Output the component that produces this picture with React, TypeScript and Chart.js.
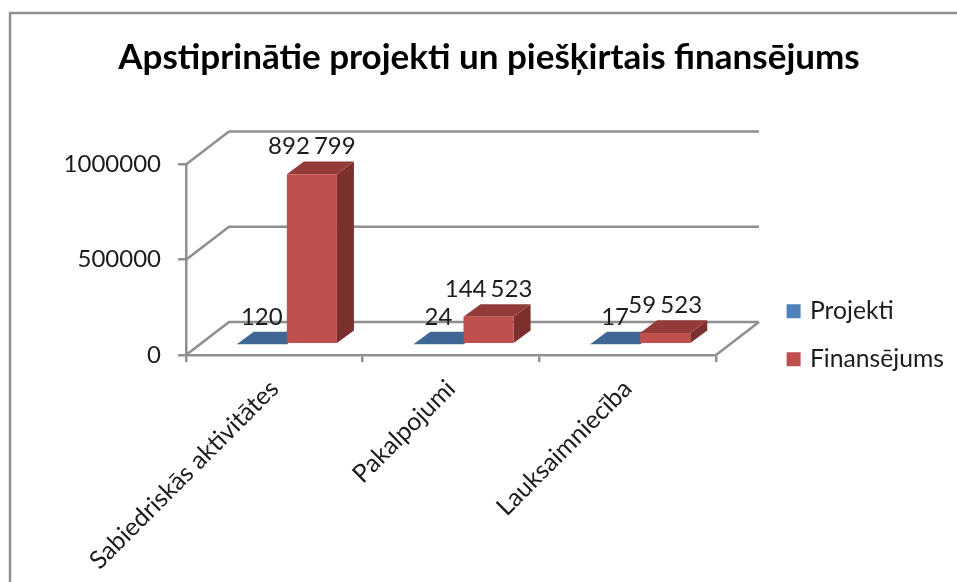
import React, { useEffect, useRef } from "react";
import { Chart, registerables } from "chart.js";

Chart.register(...registerables);

const categories = ["Sabiedriskās aktivitātes", "Pakalpojumi", "Lauksaimniecība"];
const projekti = [120, 24, 17];
const finansejums = [892799, 144523, 59523];
const yTickValues = [0, 500000, 1000000];
const seriesNames = ["Projekti", "Finansējums"];

const FONT = "Lato, Carlito, 'Open Sans', sans-serif";
const TEXT = "#1c1c1c";
const LINE = "#8f8f8f";
const WALL_DX = 43;
const WALL_DY = -33;
const BAR_SHIFT_X = 12.5;
const BAR_SHIFT_Y = -10.7;
const BAR_DX = 17;
const BAR_DY = -12.6;
const LABEL_RISE = 27.5;

const faces = [
  { front: "#4F81BD", top: "#3F6796", side: "#355780" },
  { front: "#C0504D", top: "#923B39", side: "#7B302E" },
];

const fmt = (v: number) => String(v).replace(/\B(?=(\d{3})+$)/g, " ");

const poly = (ctx: CanvasRenderingContext2D, pts: number[][], fill: string) => {
  ctx.beginPath();
  pts.forEach((p, i) => (i ? ctx.lineTo(p[0], p[1]) : ctx.moveTo(p[0], p[1])));
  ctx.closePath();
  ctx.fillStyle = fill;
  ctx.fill();
};

const scene3d = {
  id: "scene3d",
  afterLayout(chart: any) {
    const lg = chart.legend;
    lg.left = 766.3;
    lg.right = 957;
    lg.top = 275.5;
    lg.bottom = 582;
    lg.width = lg.right - lg.left;
    lg.height = lg.bottom - lg.top;
    const tt = chart.titleBlock;
    tt.left = 89;
    tt.right = 889;
    tt.width = 800;
  },
  beforeDraw(chart: any) {
    const { ctx, width, height } = chart;
    ctx.save();
    ctx.fillStyle = "#fff";
    ctx.fillRect(0, 0, width, height);
    ctx.strokeStyle = LINE;
    ctx.lineWidth = 2.5;
    ctx.strokeRect(10, 13, width + 20, height + 20);
    ctx.restore();
  },
  beforeDatasetsDraw(chart: any) {
    const { ctx, scales } = chart;
    const { x, y } = scales;
    ctx.save();
    ctx.strokeStyle = LINE;
    ctx.lineWidth = 2.5;
    ctx.beginPath();
    y.ticks.forEach((t: any) => {
      const py = y.getPixelForValue(t.value);
      ctx.moveTo(x.left, py);
      ctx.lineTo(x.left + WALL_DX, py + WALL_DY);
      ctx.lineTo(x.right + WALL_DX, py + WALL_DY);
    });
    const by = y.getPixelForValue(0);
    ctx.moveTo(x.right, by);
    ctx.lineTo(x.right + WALL_DX, by + WALL_DY);
    ctx.stroke();
    chart.data.datasets.forEach((_: any, i: number) => {
      const c = faces[i];
      chart.getDatasetMeta(i).data.forEach((bar: any) => {
        const l = bar.x - bar.width / 2 + BAR_SHIFT_X;
        const r = bar.x + bar.width / 2 + BAR_SHIFT_X;
        const t = bar.y + BAR_SHIFT_Y;
        const b = bar.base + BAR_SHIFT_Y;
        poly(ctx, [[r, t], [r + BAR_DX, t + BAR_DY], [r + BAR_DX, b + BAR_DY], [r, b]], c.side);
        poly(ctx, [[l, t], [l + BAR_DX, t + BAR_DY], [r + BAR_DX, t + BAR_DY], [r, t]], c.top);
        if (b - t > 0.5) poly(ctx, [[l, t], [r, t], [r, b], [l, b]], c.front);
      });
    });
    ctx.restore();
  },
  beforeDatasetDraw() {
    return false;
  },
  afterDatasetsDraw(chart: any) {
    const { ctx } = chart;
    ctx.save();
    ctx.font = `24px ${FONT}`;
    (ctx as any).wordSpacing = "-2px";
    ctx.fillStyle = TEXT;
    ctx.textAlign = "center";
    ctx.textBaseline = "middle";
    chart.data.datasets.forEach((ds: any, i: number) => {
      chart.getDatasetMeta(i).data.forEach((bar: any, j: number) => {
        ctx.fillText(fmt(ds.data[j]), bar.x + BAR_SHIFT_X, bar.y + BAR_SHIFT_Y - LABEL_RISE);
      });
    });
    ctx.restore();
  },
};

export default function App() {
  const ref = useRef<HTMLCanvasElement>(null);
  useEffect(() => {
    document.body.style.margin = "0";
    const chart = new Chart(ref.current as HTMLCanvasElement, {
      type: "bar",
      data: {
        labels: categories,
        datasets: [
          { label: seriesNames[0], data: projekti, backgroundColor: faces[0].front, borderColor: faces[0].front, borderWidth: 6 },
          { label: seriesNames[1], data: finansejums, backgroundColor: faces[1].front, borderColor: faces[1].front, borderWidth: 6 },
        ],
      },
      plugins: [scene3d],
      options: {
        responsive: false,
        animation: false,
        events: [],
        layout: { padding: { left: 0, right: 241, top: 0, bottom: 0 } },
        datasets: { bar: { categoryPercentage: 0.567, barPercentage: 1 } },
        scales: {
          x: {
            grid: { drawOnChartArea: false, color: LINE, lineWidth: 2.5, tickLength: 7, offset: true },
            border: { color: LINE, width: 2.5 },
            ticks: { color: TEXT, font: { family: FONT, size: 25 }, minRotation: 45, maxRotation: 45, padding: 12, autoSkip: false },
            afterFit(s: any) {
              s.height = 227;
              s.paddingLeft = 0;
              s.paddingRight = 0;
            },
          },
          y: {
            min: yTickValues[0],
            max: yTickValues[2],
            grid: { drawOnChartArea: false, color: LINE, lineWidth: 2.5, tickLength: 8 },
            border: { color: LINE, width: 2.5 },
            ticks: {
              color: TEXT,
              font: { family: FONT, size: 24 },
              stepSize: yTickValues[1],
              padding: 17,
              callback: (v: number) => String(v),
            },
            afterFit(s: any) {
              s.width = 186;
            },
          },
        },
        plugins: {
          title: {
            display: true,
            text: "Apstiprinātie projekti un piešķirtais finansējums",
            color: "#000",
            font: { family: FONT, size: 35, weight: "bold", lineHeight: 1.2 },
            padding: { top: 37, bottom: 85.4 },
          },
          legend: {
            position: "chartArea",
            align: "start",
            labels: { color: TEXT, font: { family: FONT, size: 24.7 }, boxWidth: 8, boxHeight: 8, padding: 23.3 },
          },
          tooltip: { enabled: false },
        },
      },
    } as any);
    return () => chart.destroy();
  }, []);
  return <canvas ref={ref} width={957} height={582} style={{ display: "block", filter: "blur(0.5px)" }} />;
}
